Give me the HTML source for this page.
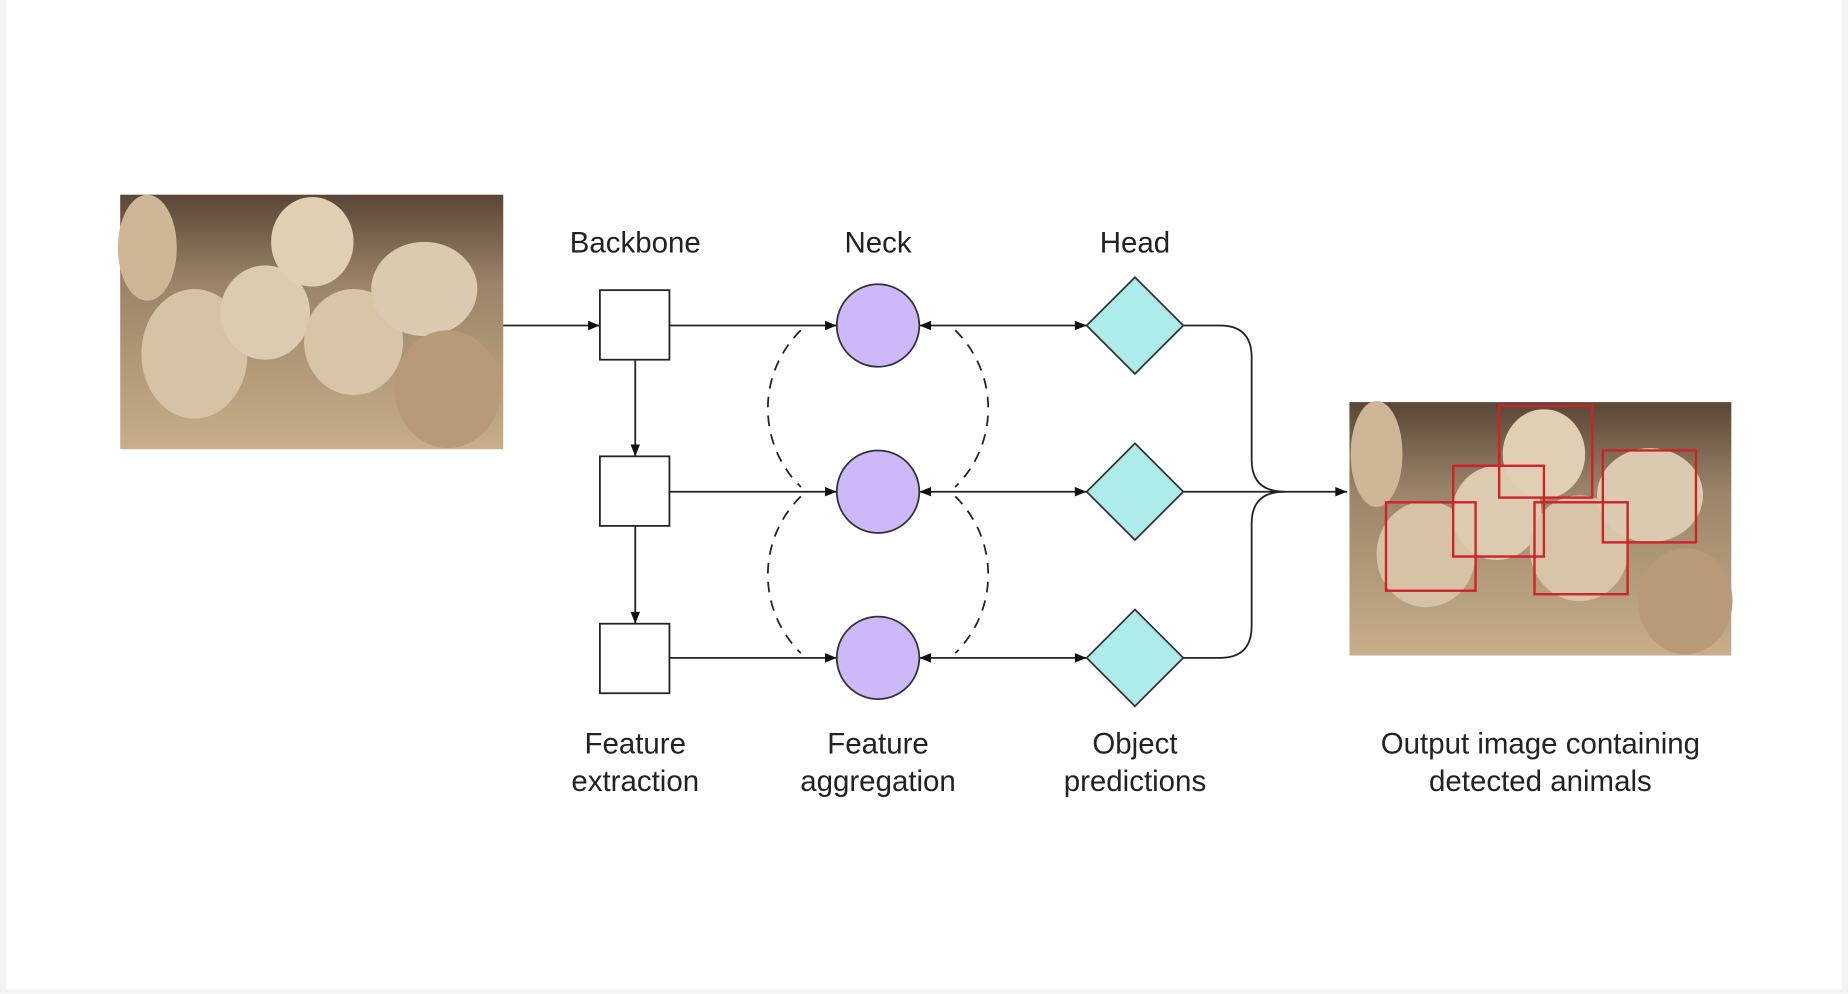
<!DOCTYPE html>
<html><head><meta charset="utf-8"><style>
html,body{margin:0;padding:0;background:#fff;}
svg{display:block;}
text{font-family:"Liberation Sans",sans-serif;fill:#222;font-size:25px;text-anchor:middle;}
</style></head><body>
<svg width="1848" height="994" viewBox="0 0 1568 843" xmlns="http://www.w3.org/2000/svg">
<defs>
<marker id="a" viewBox="0 0 10 10" refX="10" refY="5" markerWidth="14" markerHeight="10" markerUnits="userSpaceOnUse" orient="auto-start-reverse"><path d="M0,1 L10,5 L0,9 z" fill="#111"/></marker>
<linearGradient id="ph" x1="0" y1="0" x2="0" y2="1"><stop offset="0" stop-color="#5a4636"/><stop offset="0.35" stop-color="#9b8468"/><stop offset="1" stop-color="#c8ae8a"/></linearGradient>
</defs>
<rect x="0" y="0" width="1568" height="843" fill="#f3f3f3"/>
<rect x="5" y="0" width="1558" height="840" fill="#fff"/>
<!-- left photo -->
<g>
<rect x="102" y="165" width="325" height="216" fill="url(#ph)"/>
<ellipse cx="165" cy="300" rx="45" ry="55" fill="#d6c3a5"/>
<ellipse cx="225" cy="265" rx="38" ry="40" fill="#ddcbb0"/>
<ellipse cx="265" cy="205" rx="35" ry="38" fill="#e0cfb3"/>
<ellipse cx="300" cy="290" rx="42" ry="45" fill="#d8c4a6"/>
<ellipse cx="360" cy="245" rx="45" ry="40" fill="#dccab0"/>
<ellipse cx="380" cy="330" rx="45" ry="50" fill="#b89a78"/>
<ellipse cx="125" cy="210" rx="25" ry="45" fill="#cdb796"/>
</g>
<!-- right photo -->
<g>
<rect x="1145" y="341" width="324" height="215" fill="url(#ph)"/>
<ellipse cx="1210" cy="470" rx="42" ry="45" fill="#d6c3a5"/>
<ellipse cx="1270" cy="435" rx="38" ry="40" fill="#ddcbb0"/>
<ellipse cx="1310" cy="385" rx="35" ry="38" fill="#e0cfb3"/>
<ellipse cx="1340" cy="465" rx="42" ry="45" fill="#d8c4a6"/>
<ellipse cx="1400" cy="420" rx="45" ry="40" fill="#dccab0"/>
<ellipse cx="1430" cy="510" rx="40" ry="45" fill="#b89a78"/>
<ellipse cx="1168" cy="385" rx="22" ry="45" fill="#cdb796"/>
<g fill="none" stroke="#d0202a" stroke-width="2">
<rect x="1272" y="344" width="79" height="78"/>
<rect x="1360" y="382" width="79" height="78"/>
<rect x="1233" y="395" width="77" height="77"/>
<rect x="1176" y="426" width="76" height="75"/>
<rect x="1302" y="426" width="79" height="78"/>
</g>
</g>
<g stroke="#222" stroke-width="1.5" fill="none">
<line x1="427" y1="276" x2="509" y2="276" marker-end="url(#a)"/>
<line x1="539" y1="305" x2="539" y2="387" marker-end="url(#a)"/>
<line x1="539" y1="446" x2="539" y2="529" marker-end="url(#a)"/>
<line x1="568" y1="276" x2="710" y2="276" marker-end="url(#a)"/>
<line x1="568" y1="417" x2="710" y2="417" marker-end="url(#a)"/>
<line x1="568" y1="558" x2="710" y2="558" marker-end="url(#a)"/>
<line x1="780" y1="276" x2="922" y2="276" marker-start="url(#a)" marker-end="url(#a)"/>
<line x1="780" y1="417" x2="922" y2="417" marker-start="url(#a)" marker-end="url(#a)"/>
<line x1="780" y1="558" x2="922" y2="558" marker-start="url(#a)" marker-end="url(#a)"/>
<path d="M1004 276 H1035 Q1062 276 1062 303 V390 Q1062 417 1090 417"/>
<path d="M1004 558 H1035 Q1062 558 1062 531 V444 Q1062 417 1090 417"/>
<line x1="1004" y1="417" x2="1143" y2="417" marker-end="url(#a)"/>
<g stroke-dasharray="9 7">
<path d="M679.5 280 A93 93 0 0 0 679.5 413"/>
<path d="M810.5 280 A93 93 0 0 1 810.5 413"/>
<path d="M679.5 421 A93 93 0 0 0 679.5 554"/>
<path d="M810.5 421 A93 93 0 0 1 810.5 554"/>
</g>
</g>
<g stroke="#222" stroke-width="1.5" fill="#fff">
<rect x="509" y="246" width="59" height="59"/>
<rect x="509" y="387" width="59" height="59"/>
<rect x="509" y="529" width="59" height="59"/>
</g>
<g stroke="#333" stroke-width="1.5" fill="#cdb8fa">
<circle cx="745" cy="276" r="35"/>
<circle cx="745" cy="417" r="35"/>
<circle cx="745" cy="558" r="35"/>
</g>
<g stroke="#333" stroke-width="1.5" fill="#aeeceb">
<path d="M963 235 L1004 276 L963 317 L922 276 Z"/>
<path d="M963 376 L1004 417 L963 458 L922 417 Z"/>
<path d="M963 517 L1004 558 L963 599 L922 558 Z"/>
</g>
<text x="539" y="214">Backbone</text>
<text x="745" y="214">Neck</text>
<text x="963" y="214">Head</text>
<text x="539" y="639">Feature</text>
<text x="539" y="671">extraction</text>
<text x="745" y="639">Feature</text>
<text x="745" y="671">aggregation</text>
<text x="963" y="639">Object</text>
<text x="963" y="671">predictions</text>
<text x="1307" y="639">Output image containing</text>
<text x="1307" y="671">detected animals</text>
</svg>
</body></html>
